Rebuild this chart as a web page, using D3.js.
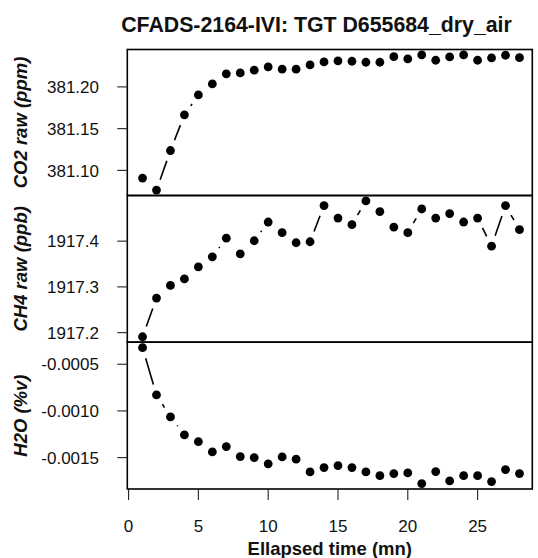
<!DOCTYPE html>
<html>
<head>
<meta charset="utf-8">
<script src="https://cdn.jsdelivr.net/npm/d3@7"></script>
<style>
  html, body { margin: 0; padding: 0; background: #fff; }
  svg { display: block; font-family: "Liberation Sans", Arial, sans-serif; }
</style>
</head>
<body>
<svg id="chart" width="538" height="558"></svg>
<script>
// ---- data ----
const titleText = "CFADS-2164-IVI: TGT D655684_dry_air";
const xLabel = "Ellapsed time (mn)";
const times = [1,2,3,4,5,6,7,8,9,10,11,12,13,14,15,16,17,18,19,20,21,22,23,24,25,26,27,28];
const co2 = [381.0908,381.0764,381.1238,381.1665,381.1904,381.2036,381.2156,381.2167,381.2200,381.2239,
             381.2212,381.2212,381.2263,381.2299,381.2311,381.2307,381.2295,381.2295,381.2362,381.2335,
             381.2383,381.2319,381.2359,381.2383,381.2319,381.2347,381.2379,381.2350];
const ch4 = [1917.191,1917.2756,1917.3033,1917.3174,1917.3437,1917.3657,1917.4066,1917.3723,1917.4009,1917.4418,
             1917.4185,1917.3965,1917.3987,1917.4778,1917.4505,1917.4360,1917.4879,1917.4646,1917.4308,1917.4185,
             1917.4703,1917.4505,1917.4602,1917.4418,1917.4505,1917.3890,1917.4778,1917.4251];
const h2o = [-0.000322,-0.000829,-0.001064,-0.001257,-0.001329,-0.001439,-0.001382,-0.001489,-0.001500,-0.001567,
             -0.001493,-0.001517,-0.001653,-0.001607,-0.001586,-0.001607,-0.001653,-0.001693,-0.001671,-0.001664,
             -0.001778,-0.001650,-0.001750,-0.001693,-0.001693,-0.001757,-0.001628,-0.001671];
const seriesLabels = ["CO2 raw (ppm)", "CH4 raw (ppb)", "H2O (%v)"];
const co2Ticks = [381.10, 381.15, 381.20];
const co2TickLabels = ["381.10", "381.15", "381.20"];
const ch4Ticks = [1917.2, 1917.3, 1917.4];
const ch4TickLabels = ["1917.2", "1917.3", "1917.4"];
const h2oTicks = [-0.0015, -0.0010, -0.0005];
const h2oTickLabels = ["-0.0015", "-0.0010", "-0.0005"];
const xTicks = [0, 5, 10, 15, 20, 25];
const xTickLabels = ["0", "5", "10", "15", "20", "25"];

// ---- layout ----
const svg = d3.select("#chart");
const left = 127.3, right = 532.3;
const bounds = [49.5, 195.5, 342.2, 489];
const x = d3.scaleLinear().domain([-0.07, 28.94]).range([left + 0.3, right + 0.3]);

const panels = [
  {values: co2, ticks: co2Ticks, labels: co2TickLabels, name: seriesLabels[0]},
  {values: ch4, ticks: ch4Ticks, labels: ch4TickLabels, name: seriesLabels[1]},
  {values: h2o, ticks: h2oTicks, labels: h2oTickLabels, name: seriesLabels[2]}
];

const gap = 11;
const r = 4.4;

panels.forEach((p, i) => {
  const top = bounds[i], bottom = bounds[i + 1];
  const [lo, hi] = d3.extent(p.values);
  const ext = (hi - lo) * 0.04;
  const y = d3.scaleLinear().domain([lo - ext, hi + ext]).range([bottom, top]);
  const g = svg.append("g");

  // box
  g.append("rect").attr("x", left).attr("y", top)
    .attr("width", right - left).attr("height", bottom - top)
    .attr("fill", "none").attr("stroke", "#000").attr("stroke-width", 1.6);

  // y ticks
  p.ticks.forEach((t, k) => {
    g.append("line").attr("x1", left - 10).attr("x2", left)
      .attr("y1", y(t)).attr("y2", y(t))
      .attr("stroke", "#222").attr("stroke-width", 1.1);
    g.append("text").attr("x", 99).attr("y", y(t)).attr("dy", "0.36em")
      .attr("text-anchor", "end").attr("font-size", 17).attr("fill", "#111")
      .text(p.labels[k]);
  });

  // y label
  const cy = (top + bottom) / 2;
  g.append("text").attr("transform", `translate(27,${cy}) rotate(-90)`)
    .attr("text-anchor", "middle").attr("font-size", 18.5)
    .attr("font-weight", "bold").attr("font-style", "italic").attr("fill", "#111")
    .text(p.name);

  // lines with gaps (type "b")
  const pts = times.map((t, k) => [x(t), y(p.values[k])]);
  for (let k = 0; k < pts.length - 1; k++) {
    const [x1, y1] = pts[k], [x2, y2] = pts[k + 1];
    const d = Math.hypot(x2 - x1, y2 - y1);
    if (d <= 2 * gap) continue;
    const ux = (x2 - x1) / d, uy = (y2 - y1) / d;
    g.append("line")
      .attr("x1", x1 + ux * gap).attr("y1", y1 + uy * gap)
      .attr("x2", x2 - ux * gap).attr("y2", y2 - uy * gap)
      .attr("stroke", "#000").attr("stroke-width", 1.6);
  }
  g.selectAll("circle").data(pts).enter().append("circle")
    .attr("cx", d => d[0]).attr("cy", d => d[1]).attr("r", r).attr("fill", "#000");
});

// x axis
const xb = bounds[3];
xTicks.forEach((t, k) => {
  svg.append("line").attr("x1", x(t)).attr("x2", x(t))
    .attr("y1", xb).attr("y2", xb + 11)
    .attr("stroke", "#222").attr("stroke-width", 1.1);
  svg.append("text").attr("x", x(t)).attr("y", 532)
    .attr("text-anchor", "middle").attr("font-size", 17).attr("fill", "#111")
    .text(xTickLabels[k]);
});
svg.append("text").attr("x", (left + right) / 2).attr("y", 555)
  .attr("text-anchor", "middle").attr("font-size", 18.5).attr("font-weight", "bold")
  .attr("fill", "#111").text(xLabel);

// title
svg.append("text").attr("x", 316.5).attr("y", 31.5)
  .attr("text-anchor", "middle").attr("font-size", 21.3).attr("font-weight", "bold")
  .attr("fill", "#111").text(titleText);
</script>
</body>
</html>
